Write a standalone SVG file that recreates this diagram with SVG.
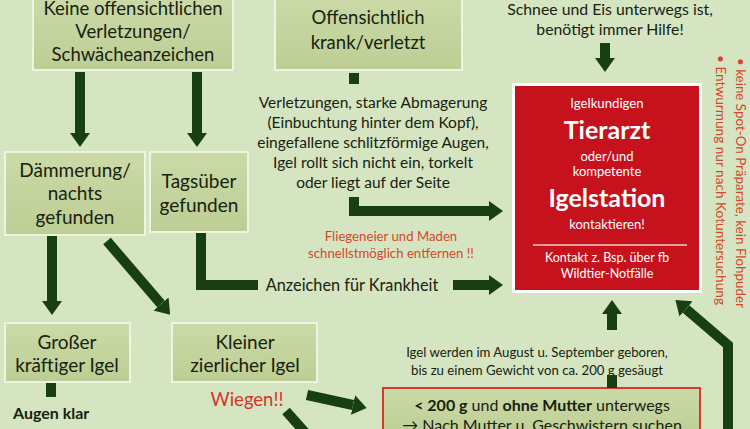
<svg xmlns="http://www.w3.org/2000/svg" width="750" height="429" viewBox="0 0 750 429">
<defs>
<linearGradient id="boxg" x1="0" y1="0" x2="0" y2="1">
<stop offset="0" stop-color="#cbdaa7"/>
<stop offset="1" stop-color="#bdce94"/>
</linearGradient>
<marker id="ah" viewBox="0 0 14 20" refX="0" refY="10" markerWidth="14" markerHeight="20" markerUnits="userSpaceOnUse" orient="auto">
<path d="M0,0 L14,10 L0,20 z" fill="#173f11"/>
</marker>
<style>
.box{fill:url(#boxg);stroke:#eef4e2;stroke-width:2}
.t{font-family:Lato,"Liberation Sans",sans-serif;fill:#17220f;text-anchor:middle}
.s{text-anchor:start}
.b18{font-size:18.5px}
.b19{font-size:19px}
.p{font-size:15.5px}
.red{fill:#d8452d}
.w{fill:#ffffff;text-anchor:middle;font-family:Lato,"Liberation Sans",sans-serif}
.c{fill:none;stroke:#173f11;stroke-width:10}
.ca{fill:none;stroke:#173f11;stroke-width:10;marker-end:url(#ah)}
</style>
</defs>
<rect width="750" height="429" fill="#d5e5c2"/>

<g id="n-keine">
<rect class="box" x="33" y="-5" width="200" height="75"/>
<text class="t b18" x="133" y="15">Keine offensichtlichen</text>
<text class="t b18" x="133" y="38">Verletzungen/</text>
<text class="t b18" x="133" y="61">Schwächeanzeichen</text>
</g>

<g id="n-offensichtlich">
<rect class="box" x="275" y="-5" width="187" height="75"/>
<text class="t b18" x="368" y="24">Offensichtlich</text>
<text class="t b18" x="368" y="49">krank/verletzt</text>
</g>

<g id="n-symptome">
<text class="t p" x="373" y="108">Verletzungen, starke Abmagerung</text>
<text class="t p" x="373" y="128">(Einbuchtung hinter dem Kopf),</text>
<text class="t p" x="373" y="148">eingefallene schlitzförmige Augen,</text>
<text class="t p" x="373" y="168">Igel rollt sich nicht ein, torkelt</text>
<text class="t p" x="373" y="188">oder liegt auf der Seite</text>
</g>

<g id="n-schnee">
<text class="t" x="610" y="15" font-size="15.8">Schnee und Eis unterwegs ist,</text>
<text class="t" x="610" y="35" font-size="15.8">benötigt immer Hilfe!</text>
</g>

<g id="n-daemmerung">
<rect class="box" x="5" y="152" width="140" height="83"/>
<text class="t b19" x="75" y="177">Dämmerung/</text>
<text class="t b19" x="75" y="200">nachts</text>
<text class="t b19" x="75" y="224">gefunden</text>
</g>

<g id="n-tagsueber">
<rect class="box" x="150" y="152" width="98" height="80"/>
<text class="t b19" x="199" y="188">Tagsüber</text>
<text class="t b19" x="199" y="212">gefunden</text>
</g>

<g id="n-fliegen">
<text class="t red" x="391" y="241" font-size="13.2">Fliegeneier und Maden</text>
<text class="t red" x="391" y="258" font-size="13.2">schnellstmöglich entfernen !!</text>
</g>

<g id="n-anzeichen">
<text class="t" x="352" y="291" font-size="16.3">Anzeichen für Krankheit</text>
</g>

<g id="n-tierarzt">
<rect x="513.5" y="84.5" width="187" height="207" fill="#c6121c" stroke="#ffffff" stroke-width="3"/>
<text class="w" x="607" y="108" font-size="13.2">Igelkundigen</text>
<text class="w" x="607" y="139" font-size="25" font-weight="bold">Tierarzt</text>
<text class="w" x="607" y="161" font-size="13">oder/und</text>
<text class="w" x="607" y="176" font-size="13">kompetente</text>
<text class="w" x="607" y="207" font-size="25" font-weight="bold">Igelstation</text>
<text class="w" x="607" y="229" font-size="13">kontaktieren!</text>
<line x1="533" y1="245" x2="687" y2="245" stroke="#f3c9c9" stroke-width="1.5"/>
<text class="w" x="607" y="262" font-size="12.5">Kontakt z. Bsp. über  fb</text>
<text class="w" x="607" y="278" font-size="12.5">Wildtier-Notfälle</text>
</g>

<g id="n-hinweise">
<text class="t s red" x="0" y="0" font-size="13" transform="translate(736,58) rotate(90)" textLength="250" lengthAdjust="spacingAndGlyphs">• keine Spot-On Präparate, kein Flohpuder</text>
<text class="t s red" x="0" y="0" font-size="13" transform="translate(716,55) rotate(90)" textLength="250" lengthAdjust="spacingAndGlyphs">• Entwurmung nur nach Kotuntersuchung</text>
</g>

<g id="n-gross">
<rect class="box" x="5" y="323" width="125" height="59"/>
<text class="t b19" x="67" y="349">Großer</text>
<text class="t b19" x="67" y="372">kräftiger Igel</text>
</g>

<g id="n-augen">
<text class="t s" x="13" y="419" font-size="16" font-weight="bold">Augen klar</text>
</g>

<g id="n-klein">
<rect class="box" x="172" y="323" width="145" height="59"/>
<text class="t b19" x="245" y="349">Kleiner</text>
<text class="t b19" x="245" y="372">zierlicher  Igel</text>
</g>

<g id="n-wiegen">
<text class="t" x="247" y="406" font-size="18.5" style="fill:#d8342a">Wiegen!!</text>
</g>

<g id="n-geboren">
<text class="t" x="537" y="357" font-size="13.2">Igel werden im August u. September geboren,</text>
<text class="t" x="537" y="375" font-size="13.2">bis zu einem Gewicht von ca. 200 g  gesäugt</text>
</g>

<g id="n-unter200">
<rect x="383" y="388" width="317" height="50" fill="url(#boxg)" stroke="#d63a2a" stroke-width="2"/>
<text class="t" x="542" y="411" font-size="16"><tspan font-weight="bold">&lt; 200 g</tspan> und <tspan font-weight="bold">ohne Mutter</tspan> unterwegs</text>
<text class="t" x="542" y="431" font-size="16">→ Nach Mutter u. Geschwistern suchen</text>
</g>

<g id="connectors">
<path class="ca" d="M80,72 V133"/>
<path class="ca" d="M197,72 V133"/>
<path class="c" stroke-width="9" d="M354,73 V84"/>
<path class="ca" stroke-width="8" d="M354,197 V211 H489"/>
<path class="c" d="M201,233 V285 H258"/>
<path class="ca" stroke-width="9" d="M453,285 H489"/>
<path class="ca" d="M605,43 V58"/>
<path class="ca" d="M52,236 V301"/>
<path class="ca" d="M107,241 L161,304"/>
<path class="c" stroke-width="8" d="M51,383 V397"/>
<path class="ca" d="M307,395 L353,405"/>
<path class="c" d="M286,411 L310,438"/>
<path class="c" stroke-width="8" d="M612,375 V388"/>
<path class="ca" stroke-width="8" d="M612,330 V314"/>
<path class="ca" d="M728,440 V345 L686,309"/>
</g>
</svg>
